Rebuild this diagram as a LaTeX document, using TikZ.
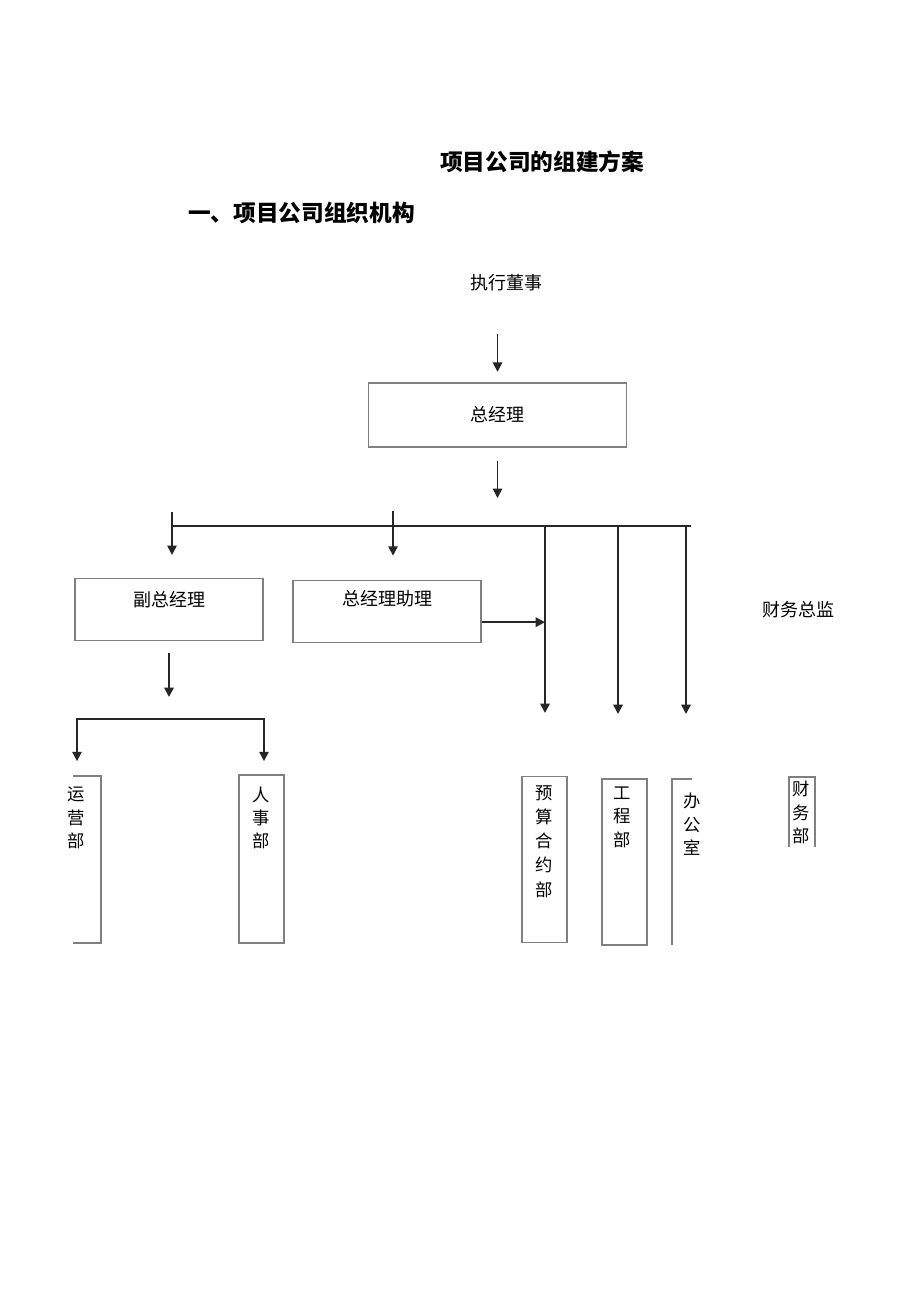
\documentclass[tikz,border=0pt]{standalone}
\usepackage{fontspec}
\newfontfamily\cjk{Noto Sans CJK SC}
\usetikzlibrary{arrows.meta}
\tikzset{box/.style = {draw=black!50, line width=0.8pt, inner sep=0pt},
    arr/.style = {line width=1.4pt, draw=black!85, -{Triangle[length=7pt,width=7pt]}},
    arrs/.style = {line width=1.4pt, draw=black!85, {Triangle[length=7pt,width=7pt]}-{Triangle[length=7pt,width=7pt]}},
    busline/.style = {line width=1.4pt, draw=black!85},
    txt/.style = {font=\cjk\fontsize{13.5}{16}\selectfont, inner sep=0pt},
    vtxt/.style = {font=\cjk\fontsize{13}{17.5}\selectfont, align=center, inner sep=0pt, anchor=north},
    head/.style = {font=\cjk\bfseries\fontsize{17}{20}\selectfont, inner sep=0pt}}

\begin{document}
\begin{tikzpicture}[x=0.75pt, y=-0.75pt]
    \useasboundingbox (0,0) rectangle (920,1301);

        \node[head] (title) at (542,162) {项目公司的组建方案};
        \node[head, anchor=west] (section) at (188,213) {一、项目公司组织机构};

        \node[txt] (ceo) at (506,283) {执行董事};
        \node[box, txt, minimum width=194pt, minimum height=48pt] (gm) at (497.5,415) {总经理};
        \draw[arr, shorten <=32pt, shorten >=8pt](ceo.south -| gm.north)--(gm.north);

        \coordinate (busL) at (172,526);
        \coordinate (busM) at (393,526);
        \coordinate (busR) at (691,526);
        \draw[arr, shorten <=10pt, shorten >=21pt](gm.south)--(gm.south |- busL);
        \draw[busline](busL)--(busR);

        \node[box, minimum width=141pt, minimum height=47pt] (vgm) at (169,609.5) {};
        \node[txt] at ([yshift=-16.5pt]vgm.north) {副总经理};
        \node[box, minimum width=141pt, minimum height=47pt] (asst) at (387,611.5) {};
        \node[txt] at ([yshift=-14pt]asst.north) {总经理助理};
        \node[txt] (cfo) at (798,610) {财务总监};

        \draw[arr, shorten >=17pt]([yshift=10.5pt]busL)--(busL |- vgm.north);
        \draw[arr, shorten >=18pt]([yshift=11pt]busM)--(busM |- asst.north);

        \coordinate (dA) at (545,526);
        \coordinate (dB) at (618,526);
        \coordinate (dC) at (686,526);
        \coordinate (budIn) at (545,713);
        \coordinate (engIn) at (618,714);
        \coordinate (offIn) at (686,714);
        \foreach \top/\bot in {dA/budIn, dB/engIn, dC/offIn}
            \draw[arr](\top)--(\bot);
        \draw[arr]([yshift=-8pt]asst.east)--([yshift=-8pt]asst.east -| dA);

        \coordinate (brL) at (77,719);
        \coordinate (brR) at (264,719);
        \draw[arr, shorten <=9pt, shorten >=16.5pt](vgm.south)--(vgm.south |- brL);

        % departments
        \node[box, minimum width=33.75pt, minimum height=126pt] (hr) at (261.5,859) {};
        \draw[arrs, shorten <=10pt, shorten >=10pt](brL |- hr.north)--(brL)--(brR)--(brR |- hr.north);
        \draw[box](73,776)--(101,776)--(101,943)--(73,943);
        \node[vtxt] (ops) at (76,787) {运\\营\\部};
        \node[vtxt] at ([yshift=-9pt]hr.north) {人\\事\\部};

        \node[box, minimum width=33.75pt, minimum height=125pt] (bud) at (544.5,859.5) {};
        \node[vtxt, font=\cjk\fontsize{13}{18.2}\selectfont] at ([yshift=-7pt]bud.north) {预\\算\\合\\约\\部};
        \node[box, minimum width=33.75pt, minimum height=124.5pt] (eng) at (624.5,862) {};
        \node[vtxt] at ([yshift=-6pt]eng.north -| 622,0) {工\\程\\部};
        \draw[box](672,945)--(672,779)--(692,779);
        \node[vtxt] (office) at (692,793) {办\\公\\室};
        \draw[box](789,847)--(789,777)--(815,777)--(815,847);
        \node[vtxt] (fin) at (801,781) {财\\务\\部};
\end{tikzpicture}
\end{document}
